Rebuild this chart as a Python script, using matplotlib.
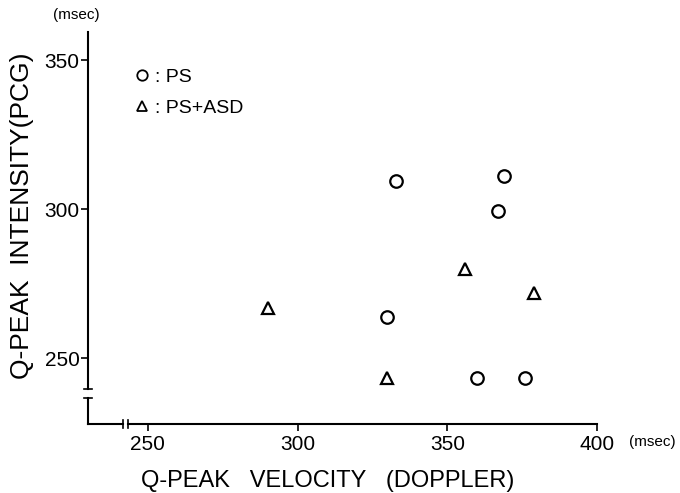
import matplotlib.pyplot as plt
from matplotlib.lines import Line2D

# PS group
ps_velocity = [333, 369, 367, 330, 360, 376]
ps_intensity = [309.5, 311, 299.5, 264, 243.5, 243.5]

# PS+ASD group
asd_velocity = [356, 379, 290, 330]
asd_intensity = [280, 272, 267, 243.5]

x_ticks = [250, 300, 350, 400]
y_ticks = [250, 300, 350]

plt.rcParams['font.family'] = ['Liberation Sans', 'DejaVu Sans']
tick_font = ['Liberation Sans Narrow', 'Liberation Sans', 'DejaVu Sans']

fig = plt.figure(figsize=(6.8, 4.93), dpi=100)
ax = fig.add_axes([88 / 680, 69 / 493, 509 / 680, 392 / 493])
ax.set_xlim(230, 400)
ax.set_ylim(228, 359.4)

ax.plot(ps_velocity, ps_intensity, 'o', ms=9, mfc='none', mec='black',
        mew=1.6, linestyle='none')
ax.plot(asd_velocity, asd_intensity, '^', ms=8, mfc='none', mec='black',
        mew=1.6, linestyle='none')

for s in ax.spines.values():
    s.set_visible(False)

# broken axes drawn by hand
lw = 1.5
ax.plot([230, 230], [359.4, 239.6], color='black', lw=lw, clip_on=False)
ax.plot([230, 230], [236.6, 228], color='black', lw=lw, clip_on=False)
ax.plot([230, 241.7], [228, 228], color='black', lw=lw, clip_on=False)
ax.plot([243.3, 400], [228, 228], color='black', lw=lw, clip_on=False)
# break caps
ax.plot([228.6, 231.4], [239.6, 239.6], color='black', lw=1.2, clip_on=False)
ax.plot([228.6, 231.4], [236.6, 236.6], color='black', lw=1.2, clip_on=False)
ax.plot([241.7, 241.7], [226.8, 229.2], color='black', lw=1.2, clip_on=False)
ax.plot([243.3, 243.3], [226.8, 229.2], color='black', lw=1.2, clip_on=False)

ax.set_xticks(x_ticks)
ax.set_yticks(y_ticks)
ax.set_xticklabels([str(t) for t in x_ticks], family=tick_font)
ax.set_yticklabels([str(t) for t in y_ticks], family=tick_font)
ax.tick_params(axis='both', direction='out', length=5, width=1.2,
               labelsize=15)
ax.tick_params(axis='x', pad=3)
ax.tick_params(axis='y', pad=1)

ax.set_xlabel('Q-PEAK   VELOCITY   (DOPPLER)', fontsize=17, va='center')
ax.xaxis.set_label_coords(0.4715, -0.145)
ax.set_ylabel('Q-PEAK  INTENSITY(PCG)', fontsize=19, va='center')
ax.yaxis.set_label_coords(-0.13, 0.53)

fig.text(76 / 680, 1 - 15 / 493, '(msec)', fontsize=11, ha='center',
         va='center')
fig.text(652 / 680, 1 - 442 / 493, '(msec)', fontsize=11, ha='center',
         va='center')

handles = [
    Line2D([], [], marker='o', ms=7.5, mfc='none', mec='black', mew=1.3,
           linestyle='none', label=': PS'),
    Line2D([], [], marker='^', ms=7, mfc='none', mec='black', mew=1.3,
           linestyle='none', label=': PS+ASD'),
]
ax.legend(handles=handles, loc='upper left', frameon=False, fontsize=14,
          handlelength=0.8, handletextpad=0.27, labelspacing=0.67,
          bbox_to_anchor=(117 / 680, 1 - 51 / 493),
          bbox_transform=fig.transFigure)

fig.savefig('out.png', dpi=100)
